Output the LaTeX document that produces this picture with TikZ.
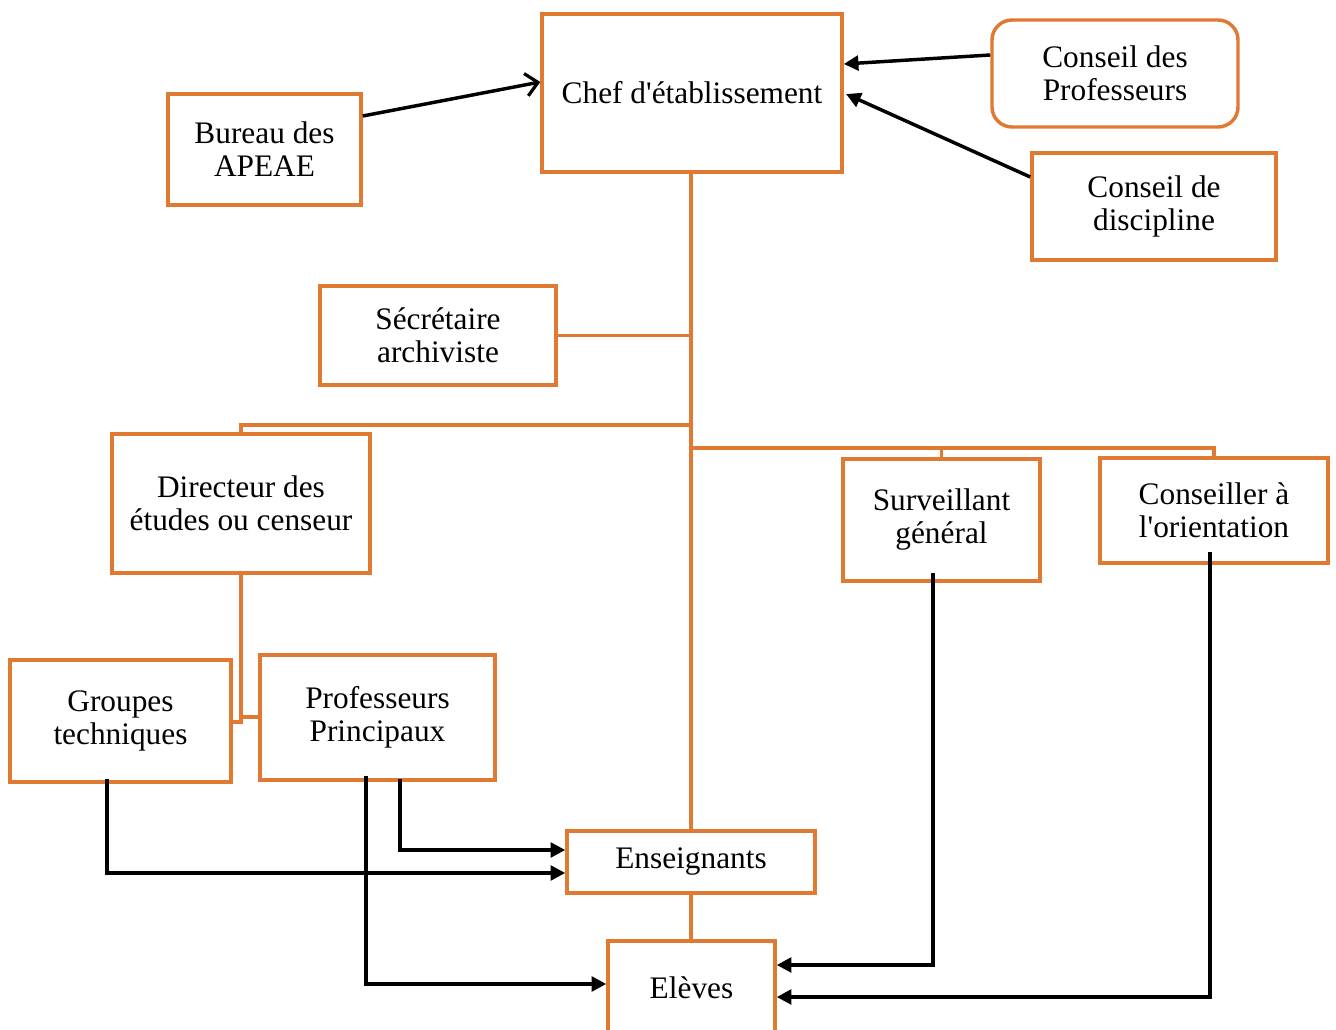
\documentclass[tikz,border=0pt]{standalone}
\usepackage{fontspec}
\setmainfont{Liberation Serif}[Ligatures=TeXOff]
\usetikzlibrary{arrows.meta}
\definecolor{org}{HTML}{E07A33}
\tikzset{
  box/.style={draw=org, line width=2.6pt, align=center, inner sep=0pt, font=\fontsize{23.5}{24.75}\selectfont},
  link/.style={draw=org, line width=2.4pt},
  arr/.style={draw=black, line width=2.6pt, -{Triangle[length=11pt,width=11pt]}},
  openarr/.style={draw=black, line width=2.6pt, -{Straight Barb[length=9pt,width=17pt,line width=2.4pt]}}
}
\begin{document}
\begin{tikzpicture}[x=0.75pt,y=-0.75pt]
\useasboundingbox (0,0) rectangle (1336,1030);
% boxes (pixel geometry)
\node[box, minimum width=225pt, minimum height=118.5pt] (chef) at (692,93) {Chef d'établissement};
\node[box, minimum width=144.75pt, minimum height=83.25pt] (bureau) at (264.5,149.5) {Bureau des\\APEAE};
\node[box, rounded corners=15pt, minimum width=184.5pt, minimum height=80.25pt] (cprof) at (1115,73.5) {Conseil des\\Professeurs};
\node[box, minimum width=183pt, minimum height=80.25pt] (cdisc) at (1154,206.5) {Conseil de\\discipline};
\node[box, minimum width=177pt, minimum height=74.25pt] (secr) at (438,335.5) {Sécrétaire\\archiviste};
\node[box, minimum width=193.5pt, minimum height=104.25pt] (dir) at (241,503.5) {Directeur des\\études ou censeur};
\node[box, minimum width=147.75pt, minimum height=91.5pt] (surv) at (941.5,520) {Surveillant\\général};
\node[box, minimum width=171pt, minimum height=78.75pt] (cons) at (1214,510.5) {Conseiller à\\l'orientation};
\node[box, minimum width=165.75pt, minimum height=91.5pt] (grp) at (120.5,721) {Groupes\\techniques};
\node[box, minimum width=176.25pt, minimum height=93.75pt] (pp) at (377.5,717.5) {Professeurs\\Principaux};
\node[box, minimum width=186pt, minimum height=46.5pt] (ens) at (691,862) {Enseignants};
\node[box, minimum width=125.25pt, minimum height=70.5pt] (elv) at (691.5,988) {Elèves};
% orange hierarchy
\coordinate (t2) at (691,425);
\coordinate (t3) at (691,448);
\draw[link] (chef.south -| 691,0) -- (ens.north -| 691,0);
\draw[link] (secr.east) -- (secr.east -| 691,0);
\draw[link] (t2) -- (t2 -| dir.north) -- (dir.north);
\draw[link] (t3) -- (t3 -| cons.north) -- (cons.north);
\draw[link] (surv.north) -- (surv.north |- t3);
\coordinate (jd) at (241,720);
\draw[link] (dir.south) -- (jd);
\draw[link] (grp.east |- 0,722) -- (241,722) -- (jd) -- (241,717) -- (pp.west |- 0,717);
\draw[link] (ens.south -| 691,0) -- (elv.north -| 691,0);
% black arrows
\draw[openarr] (bureau.east |- 0,116) -- (chef.west |- 0,82);
\draw[arr] (cprof.west |- 0,55) -- (chef.east |- 0,64);
\draw[arr] (cdisc.west |- 0,177) -- (846,94);
\draw[arr] (grp.south -| 107,0) ++(0,-5) -- (107,873) -- (ens.west |- 0,873);
\draw[arr] (pp.south -| 400,0) ++(0,-3) -- (400,850) -- (ens.west |- 0,850);
\draw[arr] (pp.south -| 366,0) ++(0,-6) -- (366,984) -- (elv.west |- 0,984);
\draw[arr] (surv.south -| 933,0) ++(0,-10) -- (933,965) -- (elv.east |- 0,965);
\draw[arr] (cons.south -| 1210,0) ++(0,-13) -- (1210,997) -- (elv.east |- 0,997);
\end{tikzpicture}
\end{document}
